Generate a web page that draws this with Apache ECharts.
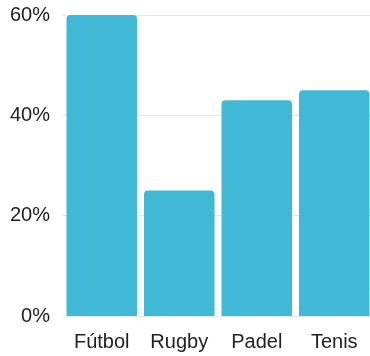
<!DOCTYPE html>
<html>
<head>
<meta charset="utf-8">
<script src="https://cdn.jsdelivr.net/npm/echarts@6/dist/echarts.min.js"></script>
<style>
  html, body { margin: 0; padding: 0; background: #fff; }
  #chart { width: 370px; height: 356px; }
</style>
</head>
<body>
<div id="chart"></div>
<script>
const categories = ['Fútbol', 'Rugby', 'Padel', 'Tenis']
const shares = [60, 25, 43, 45]
const yTicks = [0, 20, 40, 60]

const chart = echarts.init(document.getElementById('chart'))
chart.setOption({
  animation: false,
  grid: { left: 63, right: -3, top: 15, bottom: 40, outerBoundsMode: 'none' },
  xAxis: {
    type: 'category',
    data: categories,
    axisLine: { show: false },
    axisTick: { show: false },
    axisLabel: {
      margin: 16,
      color: '#222',
      fontSize: 20,
      fontFamily: 'Liberation Sans'
    }
  },
  yAxis: {
    type: 'value',
    min: yTicks[0],
    max: yTicks[yTicks.length - 1],
    interval: 20,
    axisLabel: {
      formatter: '{value}%',
      margin: 13,
      color: '#222',
      fontSize: 20,
      fontFamily: 'Liberation Sans'
    },
    splitLine: { lineStyle: { color: '#e6e6e6', width: 1 } }
  },
  series: [{
    type: 'bar',
    data: shares,
    barCategoryGap: '9%',
    itemStyle: { color: '#41b8d5', borderRadius: [4, 4, 0, 0] }
  }]
})
</script>
</body>
</html>
